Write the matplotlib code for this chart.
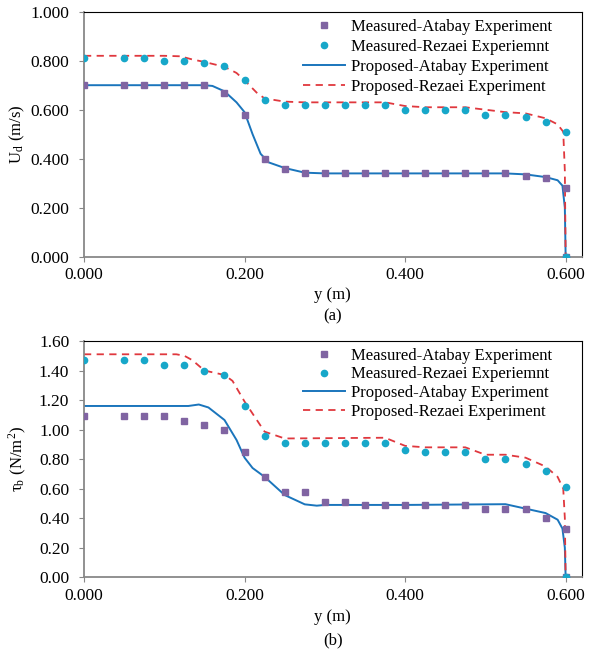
import numpy as np
import matplotlib
matplotlib.use("Agg")
import matplotlib.pyplot as plt
from matplotlib.ticker import MultipleLocator, FormatStrFormatter

plt.rcParams['font.family'] = ['Liberation Serif', 'DejaVu Serif']
plt.rcParams['font.size'] = 12
plt.rcParams['mathtext.fontset'] = 'stix'

# measured stations (m)
y_meas = [0.0, 0.05, 0.075, 0.1, 0.125, 0.15, 0.175, 0.2, 0.225, 0.25, 0.275,
          0.3, 0.325, 0.35, 0.375, 0.4, 0.425, 0.45, 0.475, 0.5, 0.525, 0.55,
          0.575, 0.6, 0.6]

# (a) depth-averaged velocity Ud (m/s)
ud_atabay_meas = [0.70, 0.70, 0.70, 0.70, 0.70, 0.70, 0.67, 0.58, 0.40, 0.36, 0.34,
                  0.34, 0.34, 0.34, 0.34, 0.34, 0.34, 0.34, 0.34, 0.34, 0.34, 0.33,
                  0.32, 0.28, 0.0]
ud_rezaei_meas = [0.81, 0.81, 0.81, 0.80, 0.80, 0.79, 0.78, 0.72, 0.64, 0.62, 0.62,
                  0.62, 0.62, 0.62, 0.62, 0.60, 0.60, 0.60, 0.60, 0.58, 0.58, 0.57,
                  0.55, 0.51, 0.0]

ud_atabay_y = [0.0, 0.10, 0.15, 0.16, 0.175, 0.19, 0.20, 0.21, 0.22, 0.23, 0.25, 0.275,
               0.30, 0.40, 0.525, 0.55, 0.575, 0.59, 0.596, 0.599, 0.6]
ud_atabay_prop = [0.70, 0.70, 0.70, 0.697, 0.675, 0.63, 0.59, 0.50, 0.42, 0.385, 0.362, 0.343,
                  0.34, 0.34, 0.34, 0.336, 0.325, 0.312, 0.29, 0.20, 0.0]

ud_rezaei_y = [0.0, 0.10, 0.12, 0.135, 0.15, 0.175, 0.19, 0.2, 0.215, 0.225, 0.25, 0.275,
               0.375, 0.4, 0.425, 0.475, 0.5, 0.525, 0.55, 0.575, 0.59, 0.597, 0.599, 0.6]
ud_rezaei_prop = [0.82, 0.82, 0.818, 0.805, 0.795, 0.775, 0.75, 0.72, 0.67, 0.646, 0.633, 0.63,
                  0.63, 0.615, 0.61, 0.61, 0.60, 0.59, 0.585, 0.565, 0.54, 0.51, 0.35, 0.0]

# (b) bed shear stress tau_b (N/m2)
tb_atabay_meas = [1.09, 1.09, 1.09, 1.09, 1.06, 1.03, 1.00, 0.85, 0.68, 0.58, 0.58,
                  0.51, 0.51, 0.49, 0.49, 0.49, 0.49, 0.49, 0.49, 0.46, 0.46, 0.46,
                  0.40, 0.33, 0.0]
tb_rezaei_meas = [1.47, 1.47, 1.47, 1.44, 1.44, 1.40, 1.37, 1.16, 0.96, 0.91, 0.91,
                  0.91, 0.91, 0.91, 0.91, 0.86, 0.85, 0.85, 0.85, 0.80, 0.80, 0.77,
                  0.72, 0.61, 0.0]

tb_atabay_y = [0.0, 0.13, 0.143, 0.155, 0.175, 0.19, 0.2, 0.21, 0.225, 0.25, 0.275,
               0.29, 0.30, 0.40, 0.525, 0.55, 0.575, 0.59, 0.596, 0.599, 0.6]
tb_atabay_prop = [1.16, 1.16, 1.17, 1.15, 1.065, 0.93, 0.81, 0.74, 0.68, 0.557, 0.494,
                  0.485, 0.49, 0.49, 0.495, 0.465, 0.435, 0.39, 0.33, 0.20, 0.0]

tb_rezaei_y = [0.0, 0.115, 0.125, 0.135, 0.15, 0.175, 0.185, 0.2, 0.225, 0.25, 0.375,
               0.4, 0.425, 0.475, 0.5, 0.525, 0.55, 0.575, 0.59, 0.597, 0.599, 0.6]
tb_rezaei_prop = [1.51, 1.51, 1.50, 1.47, 1.40, 1.37, 1.33, 1.19, 0.986, 0.94, 0.945,
                  0.89, 0.88, 0.88, 0.83, 0.83, 0.81, 0.75, 0.68, 0.60, 0.40, 0.0]

labels = ['Measured-Atabay Experiment', 'Measured-Rezaei Experiemnt',
          'Proposed-Atabay Experiment', 'Proposed-Rezaei Experiment']

c_sq = '#8064A2'
c_ci = '#17A7C9'
c_blue = '#1A75BC'
c_red = '#E0383E'
grey = '#888888'

W, H = 592, 652
fig = plt.figure(figsize=(W / 100, H / 100), dpi=100)


def make_axes(top, bottom):
    return fig.add_axes([84 / W, (H - bottom) / H, (581.7 - 84) / W, (bottom - top) / H])


def style(ax, ymax, ystep, yfmt):
    ax.set_xlim(0, 0.62)
    ax.set_ylim(0, ymax)
    ax.xaxis.set_major_locator(MultipleLocator(0.2))
    ax.yaxis.set_major_locator(MultipleLocator(ystep))
    ax.xaxis.set_major_formatter(FormatStrFormatter('%.3f'))
    ax.yaxis.set_major_formatter(FormatStrFormatter(yfmt))
    for s in ['left', 'bottom']:
        ax.spines[s].set_color(grey)
        ax.spines[s].set_linewidth(1.3)
    for s in ['top', 'right']:
        ax.spines[s].set_color('black')
        ax.spines[s].set_linewidth(0.8)
    ax.tick_params(direction='out', length=3.6, width=0.8, color=grey, labelsize=12.5)
    ax.tick_params(axis='x', pad=4)
    ax.tick_params(axis='y', pad=7)


def draw(ax, am, rm, ay, ap, ry, rp, legend_top, spacing):
    h1, = ax.plot(y_meas, am, ls='none', marker='s', ms=4.2, color=c_sq, zorder=3)
    h2, = ax.plot(y_meas, rm, ls='none', marker='o', ms=4.5, color=c_ci, zorder=3)
    h3, = ax.plot(ay, ap, color=c_blue, lw=1.4, zorder=2)
    h4, = ax.plot(ry, rp, color=c_red, lw=1.3, ls=(0, (4, 3)), zorder=2)
    ax.legend([h1, h2, h3, h4], labels, loc='upper left', bbox_to_anchor=(0.44, legend_top),
              frameon=False, fontsize=12, handlelength=2.5, handletextpad=0.4,
              labelspacing=spacing, borderpad=0, borderaxespad=0)


ax1 = make_axes(11.7, 256.7)
style(ax1, 1.0, 0.2, '%.3f')
draw(ax1, ud_atabay_meas, ud_rezaei_meas, ud_atabay_y, ud_atabay_prop,
     ud_rezaei_y, ud_rezaei_prop, 0.972, 0.24)
ax1.set_ylabel(r'U$_\mathregular{d}$ (m/s)')
ax1.yaxis.set_label_coords(-0.115, 0.5)
ax1.set_xlabel('y (m)')
ax1.xaxis.set_label_coords(0.5, -0.122)
fig.text((84 + 581.7) / 2 / W, 1 - 316.5 / H, '(a)', ha='center', va='center')

ax2 = make_axes(341, 577.3)
style(ax2, 1.6, 0.2, '%.2f')
draw(ax2, tb_atabay_meas, tb_rezaei_meas, tb_atabay_y, tb_atabay_prop,
     tb_rezaei_y, tb_rezaei_prop, 0.972, 0.17)
ax2.set_ylabel(r'τ$_\mathregular{b}$ (N/m$^\mathregular{2}$)')
ax2.yaxis.set_label_coords(-0.113, 0.5)
ax2.set_xlabel('y (m)')
ax2.xaxis.set_label_coords(0.5, -0.136)
fig.text((84 + 581.7) / 2 / W, 1 - 640 / H, '(b)', ha='center', va='center')

fig.savefig('out.png', dpi=100)
